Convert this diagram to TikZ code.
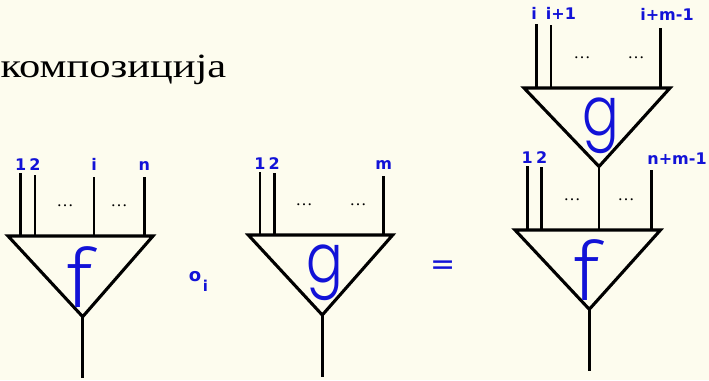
\documentclass[tikz,border=0pt]{standalone}
\usepackage{fontspec}
\setmainfont{Liberation Serif}
\newfontfamily\titlefont[FakeStretch=1.25]{Liberation Serif}
\newfontfamily\hand{DejaVu Sans}
\newfontfamily\thin{Fira Sans}[UprightFont=* Light]
\newfontfamily\thing{Poppins}[UprightFont=* Light]
\definecolor{bg}{RGB}{253,252,238}
\definecolor{lblue}{RGB}{18,18,215}
\begin{document}
\begin{tikzpicture}[x=1pt,y=-1pt,
  tri/.style={draw=black, line width=3.1pt, line join=miter},
  wire/.style={draw=black, line width=2.9pt},
  lbl/.style={text=lblue, font=\hand\bfseries\fontsize{16}{16}\selectfont, inner sep=0pt},
  fn/.style={text=lblue, font=\thin\fontsize{82}{82}\selectfont, inner sep=0pt},
  gn/.style={text=lblue, font=\thing\fontsize{68}{68}\selectfont, inner sep=0pt, xscale=0.8},
  dotsl/.style={font=\fontsize{17}{17}\selectfont, inner sep=0pt},
  title/.style={font=\titlefont\fontsize{34}{34}\selectfont, inner sep=0pt, anchor=base west}]
\useasboundingbox[fill=bg] (0,0) rectangle (709,380);

\node[title] (ttl) at (0.5,77) {композиција};

% ---- left f ----
\coordinate (fL) at (8,236); \coordinate (fR) at (153,236); \coordinate (fA) at (82.7,316.7);
\coordinate (fO) at (82.7,378);
\draw[tri] (fL) -- (fR) -- (fA) -- cycle;
\draw[wire] (fA) -- (fO);
\coordinate (f1t) at (20.7,173); \coordinate (f1b) at (20.7,236);
\coordinate (f2t) at (35,175); \coordinate (f2b) at (35,236);
\coordinate (fit) at (94,177); \coordinate (fib) at (94,236);
\coordinate (fnt) at (144.3,177); \coordinate (fnb) at (144.3,236);
\draw[wire] (f1t) -- (f1b); \draw[wire] (f2t) -- (f2b);
\draw[wire] (fit) -- (fib); \draw[wire] (fnt) -- (fnb);
\node[lbl, anchor=base] (lf1) at (20.7,170) {1};
\node[lbl, anchor=base] (lf2) at (35,170) {2};
\node[lbl, anchor=base] (lfi) at (94,170) {i};
\node[lbl, anchor=base] (lfn) at (144.3,170) {n};
\node[dotsl] (fd1) at (65,206) {\ldots};
\node[dotsl] (fd2) at (119,206) {\ldots};
\node[fn] (flab) at (80,277) {f};

% ---- composition symbol ----
\node[text=lblue, font=\hand\bfseries\fontsize{18}{18}\selectfont, inner sep=0pt] (comp) at (195,277) {o};
\node[text=lblue, font=\hand\bfseries\fontsize{15}{15}\selectfont, inner sep=0pt] (compi) at (205.5,286) {i};

% ---- middle g ----
\coordinate (gL) at (248.3,235); \coordinate (gR) at (392.7,235); \coordinate (gA) at (322.3,315);
\coordinate (gO) at (322.3,377);
\draw[tri] (gL) -- (gR) -- (gA) -- cycle;
\draw[wire] (gA) -- (gO);
\coordinate (g1t) at (260,172); \coordinate (g1b) at (260,235);
\coordinate (g2t) at (274.3,173); \coordinate (g2b) at (274.3,235);
\coordinate (gmt) at (383.7,176); \coordinate (gmb) at (383.7,235);
\draw[wire] (g1t) -- (g1b); \draw[wire] (g2t) -- (g2b); \draw[wire] (gmt) -- (gmb);
\node[lbl, anchor=base] (lg1) at (260,169) {1};
\node[lbl, anchor=base] (lg2) at (274.3,169) {2};
\node[lbl, anchor=base] (lgm) at (383.7,169) {m};
\node[dotsl] (gd1) at (304,205) {\ldots};
\node[dotsl] (gd2) at (358,205) {\ldots};
\node[gn] (glab) at (325,273) {g};

% ---- equals ----
\node[text=lblue, font=\hand\fontsize{30}{30}\selectfont, inner sep=0pt] (eq) at (443,268) {=};

% ---- right composite: bottom f ----
\coordinate (hL) at (515,230); \coordinate (hR) at (660.5,230); \coordinate (hA) at (589.3,309.3);
\coordinate (hO) at (589.3,371);
\draw[tri] (hL) -- (hR) -- (hA) -- cycle;
\draw[wire] (hA) -- (hO);
\coordinate (h1t) at (527.3,166); \coordinate (h1b) at (527.3,230);
\coordinate (h2t) at (541.7,167); \coordinate (h2b) at (541.7,230);
\coordinate (hmb) at (599,230);
\coordinate (hnt) at (651.7,170); \coordinate (hnb) at (651.7,230);
\draw[wire] (h1t) -- (h1b); \draw[wire] (h2t) -- (h2b); \draw[wire] (hnt) -- (hnb);
\node[lbl, anchor=base] (lh1) at (527.3,163) {1};
\node[lbl, anchor=base] (lh2) at (541.7,163) {2};
\node[lbl, anchor=base] (lhn) at (677,164) {n+m-1};
\node[dotsl] (hd1) at (572,200) {\ldots};
\node[dotsl] (hd2) at (626,200) {\ldots};
\node[fn] (hlab) at (587,270) {f};

% ---- right composite: top g ----
\coordinate (kL) at (524,88); \coordinate (kR) at (670,88); \coordinate (kA) at (599,166.5);
\draw[tri] (kL) -- (kR) -- (kA) -- cycle;
\draw[wire] (kA) -- (hmb);
\coordinate (k1t) at (536.7,24); \coordinate (k1b) at (536.7,88);
\coordinate (k2t) at (551,25); \coordinate (k2b) at (551,88);
\coordinate (kmt) at (660.7,28); \coordinate (kmb) at (660.7,88);
\draw[wire] (k1t) -- (k1b); \draw[wire] (k2t) -- (k2b); \draw[wire] (kmt) -- (kmb);
\node[lbl, anchor=base] (lk1) at (534,19) {i};
\node[lbl, anchor=base] (lk2) at (561,19) {i+1};
\node[lbl, anchor=base] (lkm) at (667,20) {i+m-1};
\node[dotsl] (kd1) at (582,58) {\ldots};
\node[dotsl] (kd2) at (636,58) {\ldots};
\node[gn] (klab) at (601,126) {g};
\end{tikzpicture}
\end{document}
